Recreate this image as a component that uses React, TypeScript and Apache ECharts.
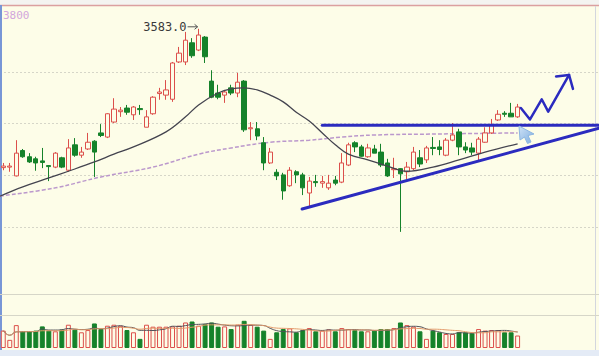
import React, { useEffect, useRef } from 'react';
import * as echarts from 'echarts';

// ---- data ----
// candles: [open, close, low, high]
const ohlc: number[][] = [
  [3315, 3318, 3310, 3324], [3316, 3318, 3307, 3324], [3299, 3343, 3298, 3368], [3348, 3336, 3334, 3351],
  [3336, 3326, 3324, 3343], [3332, 3324, 3309, 3336], [3328, 3325, 3314, 3353], [3319, 3317, 3289, 3320],
  [3316, 3343, 3314, 3345], [3334, 3316, 3314, 3336], [3310, 3353, 3307, 3370], [3359, 3339, 3336, 3372],
  [3339, 3345, 3334, 3355], [3351, 3364, 3349, 3382], [3366, 3345, 3297, 3368], [3382, 3377, 3374, 3399],
  [3374, 3419, 3372, 3420], [3403, 3428, 3401, 3449], [3423, 3426, 3413, 3432], [3430, 3422, 3417, 3436],
  [3417, 3432, 3407, 3434], [3429, 3427, 3417, 3436], [3393, 3413, 3393, 3426], [3419, 3451, 3417, 3453],
  [3458, 3461, 3446, 3469], [3455, 3465, 3446, 3484], [3447, 3517, 3442, 3519], [3519, 3536, 3517, 3548],
  [3519, 3561, 3513, 3577], [3556, 3531, 3527, 3565], [3542, 3571, 3540, 3583.0], [3567, 3529, 3517, 3569],
  [3482, 3451, 3449, 3503], [3459, 3451, 3447, 3475], [3455, 3461, 3440, 3465], [3469, 3459, 3455, 3475],
  [3459, 3480, 3451, 3498], [3482, 3388, 3384, 3484], [3390, 3392, 3368, 3403], [3390, 3376, 3368, 3403],
  [3363, 3324, 3310, 3374], [3324, 3345, 3322, 3353], [3306, 3299, 3291, 3312], [3301, 3270, 3253, 3305],
  [3280, 3310, 3278, 3316], [3307, 3301, 3285, 3310], [3301, 3276, 3262, 3305], [3266, 3289, 3237, 3297],
  [3288, 3286, 3278, 3301], [3285, 3288, 3276, 3299], [3276, 3285, 3272, 3301], [3291, 3285, 3281, 3299],
  [3287, 3324, 3285, 3343], [3320, 3359, 3318, 3363], [3363, 3355, 3345, 3366], [3355, 3337, 3336, 3359],
  [3336, 3353, 3334, 3361], [3351, 3343, 3343, 3359], [3345, 3320, 3316, 3361], [3324, 3299, 3297, 3332],
  [3311, 3313, 3295, 3334], [3313, 3303, 3191, 3314], [3307, 3316, 3293, 3326], [3313, 3345, 3310, 3355],
  [3334, 3322, 3316, 3349], [3330, 3353, 3324, 3357], [3354, 3352, 3339, 3374], [3355, 3350, 3339, 3368],
  [3339, 3368, 3337, 3372], [3368, 3378, 3366, 3401], [3384, 3355, 3339, 3390], [3355, 3349, 3343, 3364],
  [3353, 3345, 3339, 3363], [3343, 3370, 3326, 3374], [3364, 3382, 3363, 3393], [3382, 3397, 3380, 3409],
  [3407, 3418, 3405, 3426], [3420, 3418, 3413, 3424], [3420, 3413, 3413, 3440], [3413, 3432, 3411, 3438],
];

const volume: number[] = [
  177, 83, 233, 170, 170, 177, 220, 177, 170, 187, 237, 187, 160, 183, 250, 193, 227, 237, 227, 183,
  160, 93, 237, 217, 217, 217, 220, 227, 260, 270, 227, 243, 260, 217, 220, 193, 237, 277, 237, 217,
  177, 93, 160, 193, 200, 160, 183, 203, 170, 177, 190, 170, 203, 193, 183, 170, 170, 177, 193, 193,
  203, 260, 233, 217, 170, 93, 177, 160, 143, 143, 160, 160, 150, 193, 177, 183, 183, 160, 160, 127,
];

// total slots on the time axis (candles + empty space on the right)
const slotCount = 92;
const categories: string[] = Array.from({ length: slotCount }, (_, i) => `D${i + 1}`);

// moving-average curves: [slot, price]
const maShort: number[][] = [
  [-0.5, 3260], [3, 3278], [7, 3295], [10, 3308], [14, 3326], [17, 3341], [20, 3355], [25, 3384],
  [28, 3413], [30, 3436], [33, 3459], [35, 3467], [37, 3469], [39, 3465], [41, 3455], [43, 3442],
  [45, 3422], [47, 3405], [49, 3382], [51, 3359], [53, 3341], [56, 3330], [59, 3318], [62, 3308],
  [66, 3316], [70, 3330], [74, 3345], [79, 3361],
];
const maLong: number[][] = [
  [-0.5, 3260], [8, 3276], [15, 3297], [23, 3316], [30, 3341], [35, 3353], [41, 3364], [47, 3368],
  [52, 3374], [57, 3378], [67, 3380], [79, 3382],
];

// hand-drawn annotations: [slot, price]
const resistanceLine: number[][] = [[49, 3397], [91.5, 3397]];
const supportLine: number[][] = [[45.9, 3235], [91.5, 3391]];
const zigzagArrow: number[][] = [[79.5, 3430], [80.9, 3408], [82.7, 3447], [83.7, 3423], [86.9, 3494]];
const arrowHead: number[][] = [[84.9, 3491], [86.9, 3494], [87.5, 3467]];

const priceTicks = { min: 3100, max: 3600, interval: 100 };
const volumeGridLines: number[] = [330, 550];
const volumeMax = 550;
const topLabel = '3800';
const highIndex = 30;
const highValue = 3583.0;

const UP_RED = '#dc4f4b';
const DOWN_GREEN = '#15822a';
const BG = '#fdfde8';
const BLUE = '#2b2bbf';

function movingAverage(vals: number[], n: number): number[] {
  return vals.map((_, i) => {
    const s = Math.max(0, i - n + 1);
    const part = vals.slice(s, i + 1);
    return part.reduce((a, b) => a + b, 0) / part.length;
  });
}

export default function App() {
  const ref = useRef<HTMLDivElement>(null);

  useEffect(() => {
    document.body.style.margin = '0';
    const chart = echarts.init(ref.current!, null, { renderer: 'svg' });

    const volumeItems = volume.map((v, i) => {
      const [o, c] = ohlc[i];
      const up = c >= o;
      return {
        value: v,
        itemStyle: up
          ? { color: BG, borderColor: UP_RED, borderWidth: 1 }
          : { color: DOWN_GREEN, borderColor: DOWN_GREEN, borderWidth: 1 },
      };
    });

    const annot = (data: number[][], width: number) => ({
      type: 'line',
      xAxisIndex: 2,
      yAxisIndex: 0,
      data,
      symbol: 'none',
      silent: true,
      z: 10,
      lineStyle: { color: BLUE, width, cap: 'round', join: 'round' },
    });

    chart.setOption({
      animation: false,
      backgroundColor: BG,
      textStyle: { fontFamily: 'DejaVu Sans Mono' },
      grid: [
        { left: 0, width: 599, top: 20, height: 259 },
        { left: 0, width: 599, top: 294, height: 54 },
      ],
      xAxis: [
        { type: 'category', gridIndex: 0, data: categories, show: false, boundaryGap: true },
        { type: 'category', gridIndex: 1, data: categories, show: false, boundaryGap: true },
        { type: 'value', gridIndex: 0, min: -0.5, max: slotCount - 0.5, show: false },
      ],
      yAxis: [
        {
          type: 'value', gridIndex: 0, min: priceTicks.min, max: priceTicks.max, interval: priceTicks.interval,
          axisLabel: { show: false }, axisLine: { show: false }, axisTick: { show: false },
          splitLine: { show: true, showMinLine: false, showMaxLine: false, lineStyle: { color: '#d6d6c8', type: [2, 2], width: 1 } },
        },
        {
          type: 'value', gridIndex: 1, min: 0, max: volumeMax,
          axisLabel: { show: false }, axisLine: { show: false }, axisTick: { show: false }, splitLine: { show: false },
        },
      ],
      series: [
        {
          type: 'candlestick',
          xAxisIndex: 0, yAxisIndex: 0,
          data: ohlc,
          barWidth: '74%',
          itemStyle: { color: BG, color0: DOWN_GREEN, borderColor: UP_RED, borderColor0: DOWN_GREEN, borderWidth: 1 },
          z: 3,
        },
        {
          type: 'line', xAxisIndex: 2, yAxisIndex: 0, data: maShort, smooth: 0.4, symbol: 'none', z: 4,
          lineStyle: { color: '#44444f', width: 1.3 },
        },
        {
          type: 'line', xAxisIndex: 2, yAxisIndex: 0, data: maLong, smooth: 0.4, symbol: 'none', z: 2,
          lineStyle: { color: '#bb98cc', width: 1.5, type: [4, 2] },
        },
        annot(resistanceLine, 3),
        annot(supportLine, 3),
        annot(zigzagArrow, 2.5),
        annot(arrowHead, 2.5),
        {
          type: 'bar', xAxisIndex: 1, yAxisIndex: 1, data: volumeItems, barWidth: '76%',
          markLine: {
            silent: true, symbol: 'none', label: { show: false },
            lineStyle: { color: '#d6d6c8', type: 'solid', width: 1 },
            data: volumeGridLines.map((v) => ({ yAxis: v })),
          },
        },
        {
          type: 'line', xAxisIndex: 1, yAxisIndex: 1, data: movingAverage(volume, 5), smooth: true, symbol: 'none',
          lineStyle: { color: '#505058', width: 1 }, z: 5,
        },
        {
          type: 'line', xAxisIndex: 1, yAxisIndex: 1, data: movingAverage(volume, 10), smooth: true, symbol: 'none',
          lineStyle: { color: '#e39a6a', width: 1 }, z: 5,
        },
      ],
    });

    const [hx, hy] = chart.convertToPixel({ xAxisIndex: 0, yAxisIndex: 0 }, [highIndex, highValue]) as number[];
    const ly = hy - 2;

    chart.setOption({
      graphic: {
        elements: [
          { type: 'rect', shape: { x: 0, y: 0, width: 599, height: 5 }, style: { fill: '#f4f4f1' }, silent: true },
          { type: 'line', shape: { x1: 0, y1: 5.5, x2: 599, y2: 5.5 }, style: { stroke: '#dba0a0', lineWidth: 1.5 }, silent: true },
          { type: 'line', shape: { x1: 1, y1: 5, x2: 1, y2: 350 }, style: { stroke: '#7896d6', lineWidth: 2 }, silent: true },
          { type: 'line', shape: { x1: 595.5, y1: 6, x2: 595.5, y2: 350 }, style: { stroke: '#d3d6de', lineWidth: 1 }, silent: true },
          { type: 'rect', shape: { x: 0, y: 350, width: 599, height: 6 }, style: { fill: '#e4ebf6' }, silent: true },
          {
            type: 'text', x: 3, y: 15,
            style: { text: topLabel, fill: '#d2a6dc', font: '11px "DejaVu Sans Mono"', align: 'left', verticalAlign: 'middle' },
          },
          {
            type: 'text', x: hx - 12, y: ly,
            style: { text: highValue.toFixed(1), fill: '#3a3a3a', font: '12px "DejaVu Sans Mono"', align: 'right', verticalAlign: 'middle' },
          },
          { type: 'line', shape: { x1: hx - 11, y1: ly, x2: hx - 1, y2: ly }, style: { stroke: '#555', lineWidth: 1 } },
          { type: 'polyline', shape: { points: [[hx - 4, ly - 2.5], [hx - 1, ly], [hx - 4, ly + 2.5]] }, style: { stroke: '#555', lineWidth: 1, fill: 'none' } },
          {
            type: 'polygon', z: 20,
            shape: { points: [[519, 126], [534, 134], [528, 135.5], [531, 142], [527.5, 143.5], [524.5, 137], [520, 140]] },
            style: {
              fill: new echarts.graphic.LinearGradient(0, 0, 1, 1, [
                { offset: 0, color: '#cfe2f6' },
                { offset: 1, color: '#7eaee0' },
              ]),
              stroke: '#8db6e2', lineWidth: 1,
            },
          },
        ],
      },
    });

    return () => chart.dispose();
  }, []);

  return <div ref={ref} style={{ width: 599, height: 356 }} />;
}
